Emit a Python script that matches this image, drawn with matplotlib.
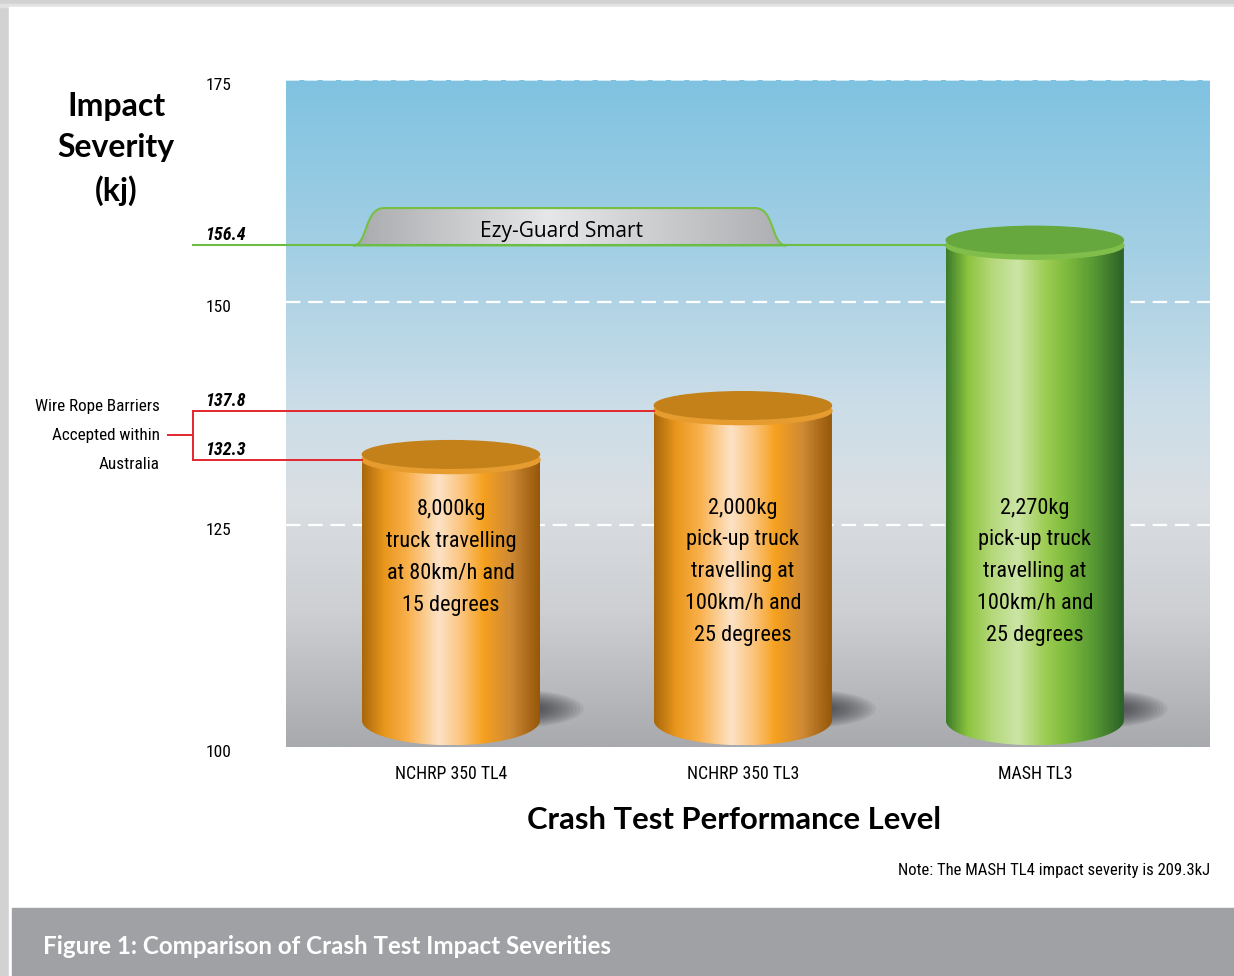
import numpy as np
import matplotlib
matplotlib.use("Agg")
import matplotlib.pyplot as plt
from matplotlib import font_manager
from matplotlib.colors import LinearSegmentedColormap
from matplotlib.patches import Rectangle, Ellipse, PathPatch
from matplotlib.path import Path
from matplotlib.transforms import blended_transform_factory, ScaledTranslation

# data
categories = ["NCHRP 350 TL4", "NCHRP 350 TL3", "MASH TL3"]
severity = [132.3, 137.8, 156.4]
bar_text = ["8,000kg\ntruck travelling\nat 80km/h and\n15 degrees",
            "2,000kg\npick-up truck\ntravelling at\n100km/h and\n25 degrees",
            "2,270kg\npick-up truck\ntravelling at\n100km/h and\n25 degrees"]
bar_kind = ["orange", "orange", "green"]
yticks = [100, 125, 150, 175]
wire_rope = [132.3, 137.8]
ezy_guard = 156.4

names = {f.name for f in font_manager.fontManager.ttflist}
NARROW = next((n for n in ["Liberation Sans Narrow", "Roboto Condensed",
                           "Open Sans Condensed"] if n in names), "Liberation Sans")
BOLD = "Lato" if "Lato" in names else "DejaVu Sans"
TAB = "Open Sans" if "Open Sans" in names else "DejaVu Sans"

XMIN, XMAX = -0.565, 2.6
YMIN, YMAX = 100, 175
W = 0.61

fig = plt.figure(figsize=(12.34, 9.76), dpi=100)

# page background / frame
bg = fig.add_axes([0, 0, 1, 1], zorder=0)
bg.set_xlim(0, 1234)
bg.set_ylim(976, 0)
bg.axis("off")
bg.add_patch(Rectangle((0, 0), 1234, 976, color="#d2d2d2"))
bg.add_patch(Rectangle((0, 4), 1234, 3, color="#e2e2e2"))
bg.add_patch(Rectangle((9, 7), 1225, 969, color="white"))
bg.add_patch(Rectangle((12, 908), 1222, 68, color="#a0a1a4"))
bg.text(43, 947, "Figure 1: Comparison of Crash Test Impact Severities",
        color="white", fontsize=17.4, fontweight="bold", family=BOLD, va="center")
bg.text(1210, 870, "Note: The MASH TL4 impact severity is 209.3kJ",
        fontsize=12, family=NARROW, ha="right", va="center")
bg.text(116, 149, "Impact\nSeverity\n(kj)", fontsize=23, fontweight="bold",
        family=BOLD, ha="center", va="center", linespacing=1.5)

ax = fig.add_axes([286 / 1234, 229 / 976, 924 / 1234, 667 / 976], zorder=2)
ax.patch.set_visible(False)
for s in ax.spines.values():
    s.set_visible(False)

# plot background gradient
bg_cmap = LinearSegmentedColormap.from_list("sky", [
    (0.0, "#a8aaad"), (0.2, "#cdcfd2"), (0.37, "#dadfe3"),
    (0.52, "#cadde8"), (0.75, "#a3cfe4"), (1.0, "#80c3e1")])
ax.imshow(np.linspace(0, 1, 300).reshape(-1, 1), cmap=bg_cmap, origin="lower",
          extent=[XMIN, XMAX, YMIN, YMAX], aspect="auto", zorder=0)
for g in [125, 150]:
    ax.axhline(g, color="white", lw=1.6, ls=(0, (6.5, 3.5)), zorder=1)
ax.axhline(175, color="#e4f1f8", lw=1.2, ls=(0, (8, 3)), zorder=1)

cmaps = {
    "orange": LinearSegmentedColormap.from_list("or", [
        (0.0, "#a9680c"), (0.12, "#e8961c"), (0.25, "#f9b04a"), (0.43, "#fde2c6"),
        (0.56, "#fbc37a"), (0.68, "#f6a11e"), (0.83, "#cf8a34"), (1.0, "#945609")]),
    "green": LinearSegmentedColormap.from_list("gr", [
        (0.0, "#3d7c2a"), (0.12, "#8cc43e"), (0.25, "#b3d778"), (0.4, "#cce5a6"),
        (0.55, "#9fce55"), (0.68, "#7cba3c"), (0.83, "#579833"), (1.0, "#2b5f27")]),
}
top_col = {"orange": "#c4811a", "green": "#66a73e"}
rim_col = {"orange": "#e69c2e", "green": "#80bd4a"}

hgrad = np.linspace(0, 1, 300).reshape(1, -1)
YB, BB, AT = 103.0, 2.8, 1.55
for i, (v, kind) in enumerate(zip(severity, bar_kind)):
    x0, x1 = i - W / 2, i + W / 2
    # shadow
    for k in np.linspace(1.0, 0.25, 14):
        ax.add_patch(Ellipse((i + 0.22, 104.3), 0.42 * k + 0.05, 4.3 * k,
                             color="#2a2a30", alpha=0.075, lw=0, zorder=2))
    t = np.linspace(np.pi, 2 * np.pi, 80)
    verts = [(x0, v)] + list(zip(i + W / 2 * np.cos(t), YB + BB * np.sin(t))) + [(x1, v), (x0, v)]
    body = PathPatch(Path(verts, closed=True), fc="none", ec="none", zorder=3)
    ax.add_patch(body)
    im = ax.imshow(hgrad, cmap=cmaps[kind], extent=[x0, x1, YB - BB, v],
                   aspect="auto", zorder=3)
    im.set_clip_path(body)
    ax.add_patch(Ellipse((i, v), W, 2 * AT, color=rim_col[kind], zorder=4))
    ax.add_patch(Ellipse((i, v + 0.6), W * 0.995, 2 * AT, color=top_col[kind], zorder=4))
    ax.text(i, 119.7 if bar_text[i].count("\n") == 4 else 121.3, bar_text[i],
            ha="center", va="center", fontsize=16, family=NARROW,
            linespacing=1.68, zorder=5)

# reference lines on the left
tr = blended_transform_factory(ax.transAxes, ax.transData)
def frac(x):
    return (x - XMIN) / (XMAX - XMIN)
LX = -0.1006
ax.plot([LX, frac(2 - W / 2)], [ezy_guard] * 2, color="#6cbd45", lw=1.5,
        transform=tr, clip_on=False, zorder=6)
red = "#e3262e"
ax.plot([LX, frac(0 - W / 2)], [wire_rope[0]] * 2, color=red, lw=1.4,
        transform=tr, clip_on=False, zorder=6)
ax.plot([LX, frac(1 - W / 2)], [wire_rope[1]] * 2, color=red, lw=1.4,
        transform=tr, clip_on=False, zorder=6)
ax.plot([LX, LX], wire_rope, color=red, lw=1.4, transform=tr, clip_on=False)
mid = sum(wire_rope) / 2
ax.plot([-0.1277, LX], [mid, mid], color=red, lw=1.4, transform=tr, clip_on=False)
ax.text(-0.1364, mid, "Wire Rope Barriers\nAccepted within\nAustralia",
        transform=tr, ha="right", va="center", fontsize=12.3, family=NARROW,
        linespacing=2.15)
for v in wire_rope + [ezy_guard]:
    ax.text(-0.0877, v + 0.12, f"{v:.1f}", transform=tr, ha="left", va="bottom",
            fontsize=13, fontweight="bold", style="italic", family=NARROW)

# Ezy-Guard tab
def dx(px):
    return (px - 286) / 924 * (XMAX - XMIN) + XMIN
base, top = ezy_guard, 160.6
tab_v = [(dx(353), base), (dx(368), base), (dx(364), top), (dx(384), top),
         (dx(755), top), (dx(775), top), (dx(771), base), (dx(786), base),
         (dx(353), base)]
tab_c = [Path.MOVETO, Path.CURVE4, Path.CURVE4, Path.CURVE4, Path.LINETO,
         Path.CURVE4, Path.CURVE4, Path.CURVE4, Path.CLOSEPOLY]
tab = PathPatch(Path(tab_v, tab_c), fc="none", ec="#76c043", lw=1.5, zorder=5)
ax.add_patch(tab)
tab_cmap = LinearSegmentedColormap.from_list("tab", [
    (0, "#a9aaad"), (0.45, "#e6e7e8"), (1, "#adaeb1")])
im = ax.imshow(hgrad, cmap=tab_cmap, extent=[dx(353), dx(786), base, top],
               aspect="auto", zorder=4)
im.set_clip_path(tab)
ax.text(dx(562), base + 1.6, "Ezy-Guard Smart", ha="center", va="center",
        fontsize=15, family=TAB, zorder=6)

ax.set_xlim(XMIN, XMAX)
ax.set_ylim(YMIN, YMAX)
ax.set_xticks(range(len(categories)), categories, fontsize=12.8, family=NARROW)
ax.set_yticks(yticks, [str(t) for t in yticks], fontsize=12.5, family=NARROW)
ax.tick_params(axis="x", length=0, pad=13)
ax.tick_params(axis="y", length=0, pad=39)
off = ScaledTranslation(0, -0.04, fig.dpi_scale_trans)
for lab in ax.get_yticklabels():
    lab.set_transform(lab.get_transform() + off)
ax.text(0.485, -0.109, "Crash Test Performance Level", transform=ax.transAxes,
        ha="center", va="center", fontsize=22.3, fontweight="bold", family=BOLD)

fig.savefig("out.png", dpi=100)
